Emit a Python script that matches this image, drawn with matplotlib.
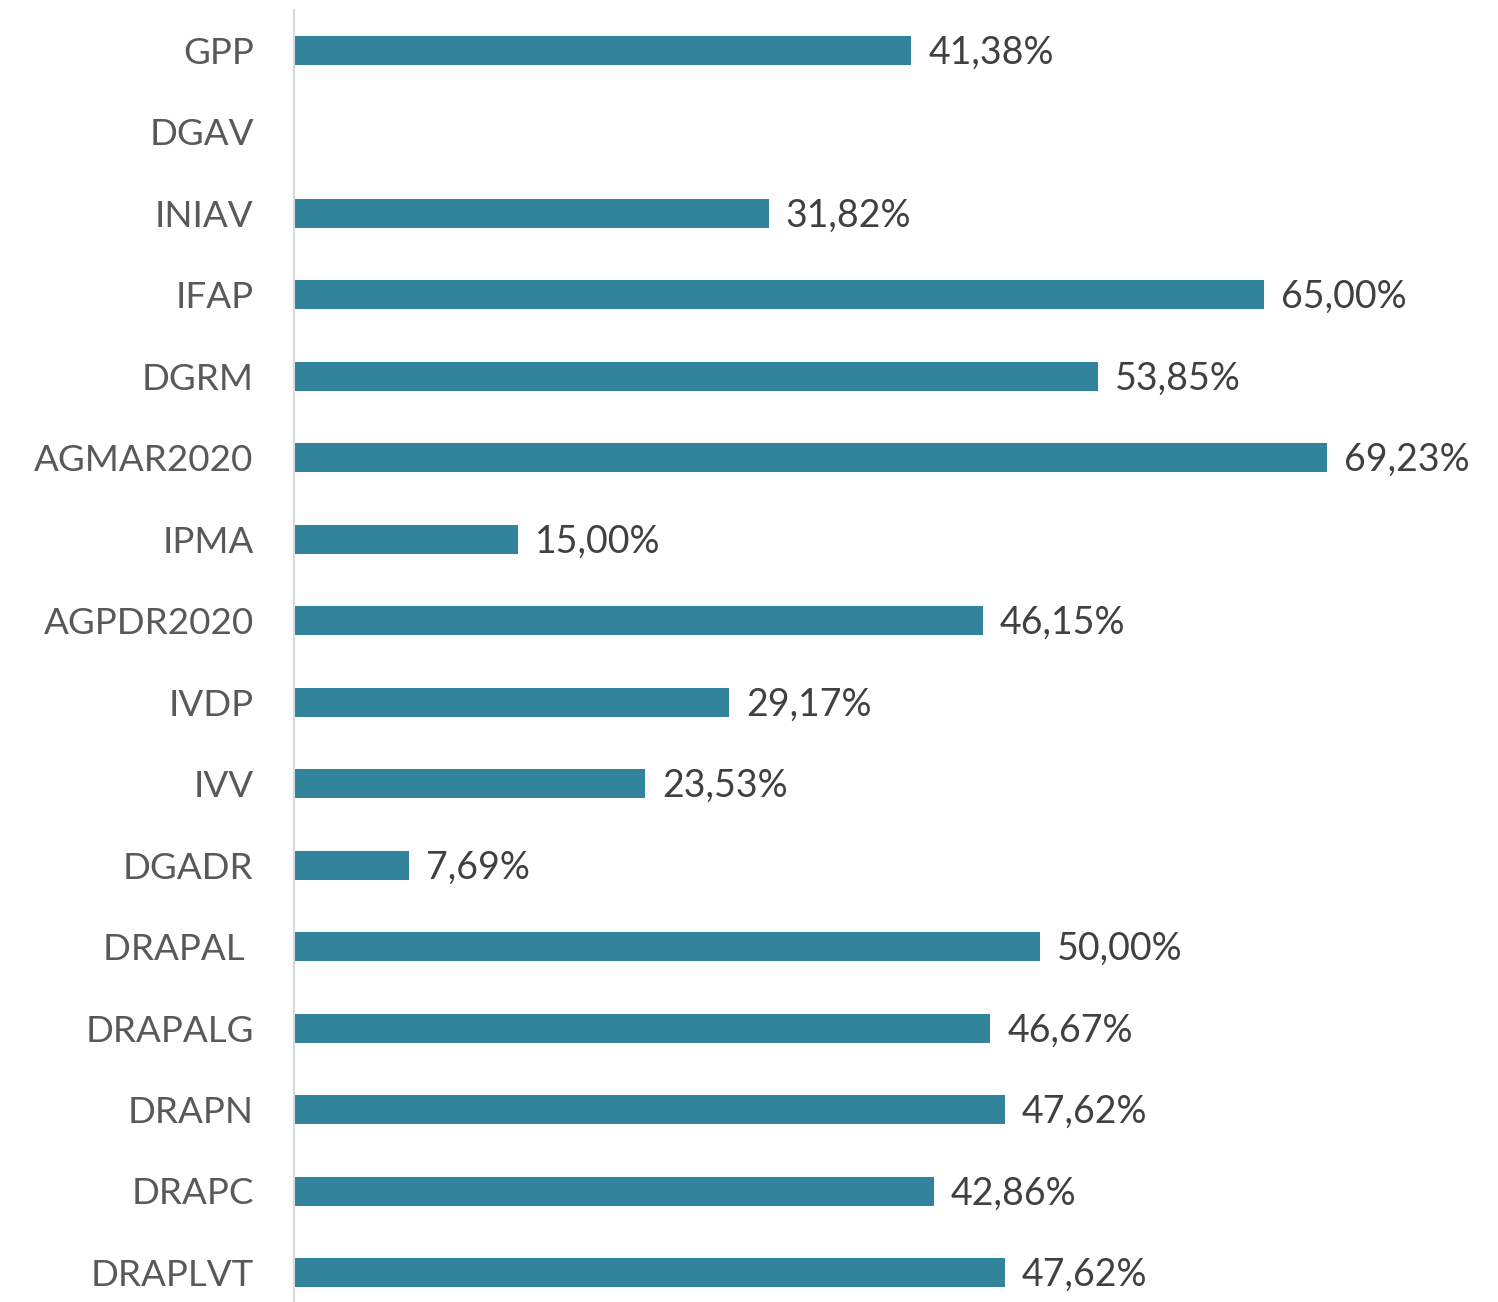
import matplotlib
matplotlib.use('Agg')
import matplotlib.pyplot as plt

categories = ['GPP', 'DGAV', 'INIAV', 'IFAP', 'DGRM', 'AGMAR2020', 'IPMA', 'AGPDR2020',
              'IVDP', 'IVV', 'DGADR', 'DRAPAL ', 'DRAPALG', 'DRAPN', 'DRAPC', 'DRAPLVT']
values = [41.38, None, 31.82, 65.00, 53.85, 69.23, 15.00, 46.15,
          29.17, 23.53, 7.69, 50.00, 46.67, 47.62, 42.86, 47.62]

plt.rcParams['font.family'] = ['Lato', 'DejaVu Sans']

W, H = 1498, 1302
fig = plt.figure(figsize=(W / 100, H / 100), dpi=100)
# axes: left spine at x=294px, top at y=10px, down to the bottom edge
ax = fig.add_axes([294 / W, 0, (1420 - 294) / W, 1 - 10 / H])

px_per_pct = (1328 - 295) / 69.23
row = 81.5
first = 50
ax.set_xlim(0, (1420 - 294) / px_per_pct)
ax.set_ylim((H - first) / row, (10 - first) / row)

bar_color = '#31849B'
for i, v in enumerate(values):
    if v is None:
        continue
    ax.barh(i, v, height=29 / row, color=bar_color)
    ax.text(v + 17 / px_per_pct, i + 0.03, f'{v:.2f}%'.replace('.', ','),
            va='center', ha='left', fontsize=27, color='#404040')

ax.set_yticks(range(len(categories)))
ax.set_yticklabels(categories, fontsize=26.5, color='#595959')
ax.tick_params(axis='y', length=0, pad=29)
ax.set_xticks([])

for s in ['top', 'right', 'bottom']:
    ax.spines[s].set_visible(False)
ax.spines['left'].set_color('#D9D9D9')
ax.spines['left'].set_linewidth(1.5)

fig.savefig('out.png', dpi=100)
